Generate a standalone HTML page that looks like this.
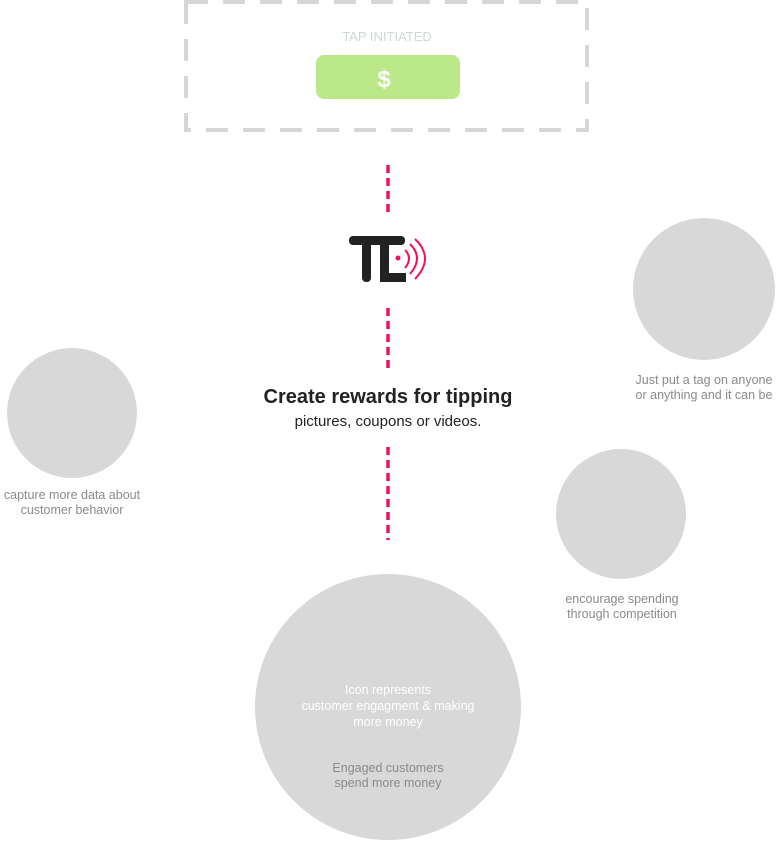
<!DOCTYPE html>
<html><head><style>
body{margin:0;width:777px;height:842px;position:relative;background:#fff;overflow:hidden;font-family:"Liberation Sans",sans-serif}
.t{position:absolute;text-align:center;font-size:12.5px;color:#8a8a8a;line-height:15px;white-space:nowrap}
.c{position:absolute;border-radius:50%;background:#d8d8d8}
</style></head><body>
<svg width="777" height="842" style="position:absolute;left:0;top:0">
<rect x="186" y="2" width="401" height="128" fill="none" stroke="#d6d6d6" stroke-width="4" stroke-dasharray="22 15"/>
<g stroke="#f0105e" stroke-width="3.5" stroke-dasharray="8 5">
<line x1="388" y1="165" x2="388" y2="215"/>
<line x1="388" y1="308" x2="388" y2="372"/>
<line x1="388" y1="447" x2="388" y2="540"/>
</g>
<rect x="316" y="55" width="144" height="44" rx="8" fill="#bbe98a"/>
<text x="384" y="87" text-anchor="middle" font-family="Liberation Sans" font-weight="bold" font-size="24" fill="#fff">$</text>
<text x="387" y="41" text-anchor="middle" font-family="Liberation Sans" font-size="13" fill="#cfd8d8">TAP INITIATED</text>
<!-- logo -->
<g fill="#222">
<rect x="349" y="236" width="56" height="9" rx="4"/>
<rect x="362" y="236" width="9" height="46" rx="4"/>
<rect x="380" y="236" width="9" height="46" rx="4"/>
<rect x="380" y="273" width="26" height="9"/>
</g>
<circle cx="398" cy="258" r="2.5" fill="#f0105e"/>
<g fill="none" stroke="#f0105e" stroke-width="2">
<path d="M405 250 q8 8 0 18"/>
<path d="M410 244 q14 14 0 30"/>
<path d="M415 239 q20 19 0 40"/>
</g>
</svg>
<div class="c" style="left:7px;top:348px;width:130px;height:130px"></div>
<div class="c" style="left:633px;top:218px;width:142px;height:142px"></div>
<div class="c" style="left:556px;top:449px;width:130px;height:130px"></div>
<div class="c" style="left:255px;top:574px;width:266px;height:266px"></div>
<div style="position:absolute;left:188px;width:400px;top:386px;text-align:center;font-size:20px;font-weight:bold;color:#222">Create rewards for tipping</div>
<div style="position:absolute;left:188px;width:400px;top:413px;text-align:center;font-size:15px;color:#222">pictures, coupons or videos.</div>
<div class="t" style="left:-28px;width:200px;top:488px">capture more data about<br>customer behavior</div>
<div class="t" style="left:604px;width:200px;top:373px">Just put a tag on anyone<br>or anything and it can be</div>
<div class="t" style="left:522px;width:200px;top:592px">encourage spending<br>through competition</div>
<div class="t" style="left:288px;width:200px;top:682px;color:#fff;line-height:16px">Icon represents<br>customer engagment &amp; making<br>more money</div>
<div class="t" style="left:288px;width:200px;top:761px">Engaged customers<br>spend more money</div>
</body></html>
